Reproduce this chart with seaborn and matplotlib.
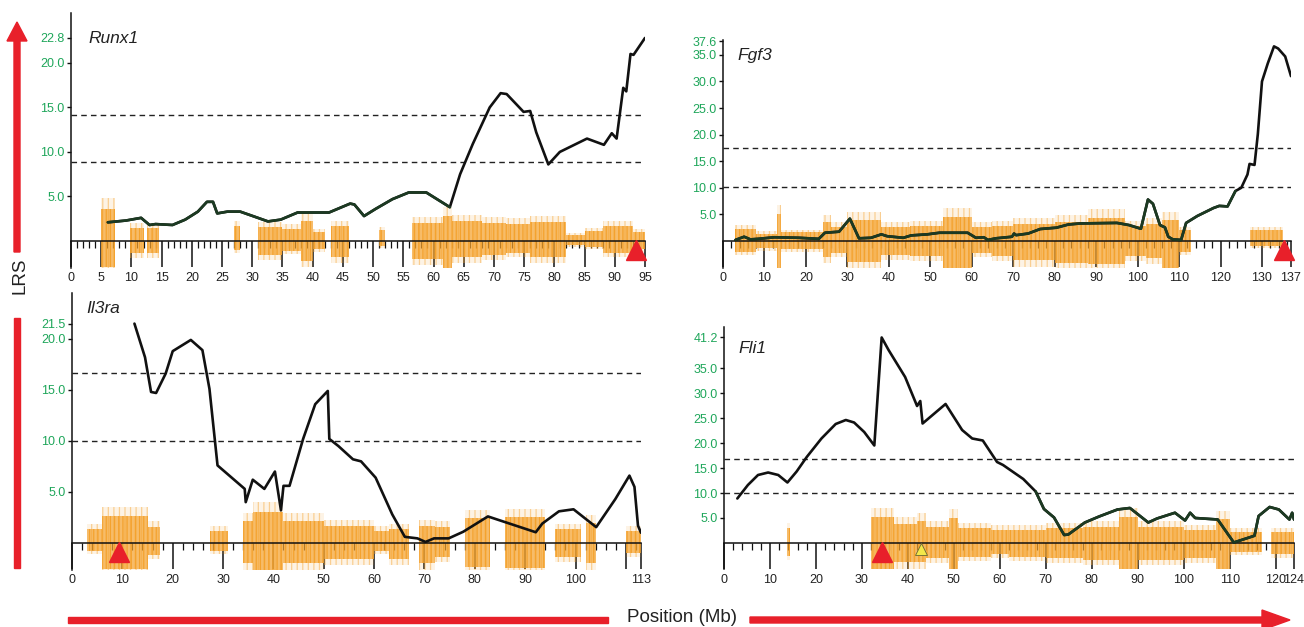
import matplotlib
matplotlib.use("Agg")
import matplotlib.pyplot as plt
import matplotlib.patches as mpatches
from matplotlib.transforms import ScaledTranslation
import numpy as np
import seaborn as sns

sns.set_theme(style="white")
plt.rcParams["font.family"] = ["Liberation Sans", "DejaVu Sans"]
plt.rcParams["hatch.linewidth"] = 0.9

# ---------------- data ----------------
# Runx1
runx1_pos = [6.1, 9.1, 11.6, 13.0, 14.0, 16.8, 18.9, 21.0, 22.5, 23.5, 24.2, 25.9, 28.0, 30.1,
             32.6, 34.7, 37.5, 42.7, 46.2, 46.9, 48.5, 50.4, 53.2, 55.9, 58.8, 62.7, 64.4,
             66.5, 69.3, 71.1, 72.1, 74.9, 76.0, 77.0, 79.0, 80.9, 85.4, 88.2, 89.5, 90.3,
             91.4, 91.9, 92.6, 93.1, 95.0]
runx1_lrs = [2.1, 2.3, 2.6, 1.8, 1.9, 1.8, 2.4, 3.3, 4.4, 4.4, 3.1, 3.3, 3.3, 2.8,
             2.2, 2.4, 3.2, 3.2, 4.2, 4.1, 2.8, 3.6, 4.7, 5.45, 5.45, 3.8, 7.5,
             10.9, 15.0, 16.6, 16.5, 14.5, 14.6, 12.2, 8.6, 10.0, 11.5, 10.8, 12.1, 11.5,
             17.2, 16.8, 21.0, 20.9, 22.8]
runx1_thresh = [14.2, 8.9]
runx1_yticks = [5.0, 10.0, 15.0, 20.0, 22.8]
runx1_o_start = [5.0, 9.8, 12.5, 27.0, 31.0, 35.0, 38.0, 40.0, 43.0, 51.0, 56.5, 61.5, 63.0,
                 68.0, 72.0, 76.0, 82.0, 85.0, 88.0, 93.0]
runx1_o_end = [7.3, 12.0, 14.5, 28.0, 35.0, 38.0, 40.0, 42.0, 46.0, 52.0, 61.5, 63.0, 68.0,
               72.0, 76.0, 82.0, 85.0, 88.0, 93.0, 95.0]
runx1_o_up = [3.6, 1.5, 1.5, 1.7, 1.6, 1.4, 2.3, 1.0, 1.7, 1.2, 2.0, 2.8, 2.2,
              2.0, 1.9, 2.1, 0.7, 1.1, 1.7, 1.0]
runx1_o_down = [2.9, 1.4, 1.4, 1.0, 1.6, 1.1, 2.2, 0.9, 1.8, 0.6, 2.0, 3.0, 1.8,
                1.6, 1.3, 1.8, 0.5, 0.7, 1.3, 0.9]

# Fgf3
fgf3_pos = [3.0, 5.1, 6.6, 8.5, 12.4, 18.3, 23.1, 24.6, 28.0, 30.6, 32.8, 35.7, 38.2, 39.6,
            43.5, 45.4, 49.3, 52.2, 59.0, 61.0, 62.9, 63.9, 65.8, 69.7, 70.2, 70.7, 73.6,
            76.5, 80.4, 83.3, 86.2, 95.0, 97.9, 100.8, 102.5, 103.7, 105.4, 106.6, 107.4,
            108.5, 110.5, 111.7, 114.4, 118.3, 119.7, 121.7, 123.6, 125.0, 126.5, 127.0,
            128.2, 129.0, 130.0, 131.4, 132.9, 133.9, 135.6, 137.0]
fgf3_lrs = [0.2, 0.8, 0.3, 0.4, 0.7, 0.6, 0.4, 1.55, 1.75, 4.2, 0.5, 0.6, 1.25, 0.9,
            0.6, 1.05, 1.25, 1.55, 1.55, 0.6, 0.7, 0.2, 0.5, 0.8, 1.4, 1.1, 1.4,
            2.25, 2.5, 3.1, 3.3, 3.4, 3.0, 2.3, 7.8, 7.0, 3.0, 2.55, 0.8,
            0.3, 0.2, 3.4, 4.7, 6.2, 6.6, 6.5, 9.4, 10.0, 12.5, 14.5,
            14.3, 20.1, 30.0, 33.4, 36.6, 36.2, 34.7, 31.0]
fgf3_thresh = [17.5, 10.2]
fgf3_yticks = [5.0, 10.0, 15.0, 20.0, 25.0, 30.0, 35.0, 37.6]
fgf3_o_start = [3, 8, 13, 14, 24, 26, 30, 38, 45, 53, 60, 65, 70, 80, 88, 97, 102, 106, 110, 127]
fgf3_o_end = [8, 13, 14, 24, 26, 30, 38, 45, 53, 60, 65, 70, 80, 88, 97, 102, 106, 110, 113, 135]
fgf3_o_up = [2.2, 1.4, 5.0, 1.6, 3.6, 2.6, 4.0, 2.6, 2.8, 4.6, 2.6, 2.8, 3.2, 3.6, 4.4, 2.8,
             3.2, 4.0, 2.0, 2.0]
fgf3_o_down = [2.0, 1.4, 5.0, 1.6, 3.0, 2.2, 4.0, 2.6, 2.8, 5.0, 2.2, 2.8, 3.6, 4.2, 4.4, 2.8,
               3.2, 5.0, 2.0, 1.0]

# Il3ra
il3ra_pos = [12.4, 14.5, 15.7, 16.7, 18.6, 20.0, 23.6, 25.9, 27.3, 28.9, 34.3, 34.5, 35.9,
             38.2, 40.3, 41.5, 42.0, 43.2, 45.9, 48.3, 50.8, 51.1, 52.9, 55.8, 57.4, 60.3,
             63.6, 66.1, 68.6, 70.2, 71.9, 74.8, 77.7, 82.6, 92.1, 93.4, 96.7, 99.6, 104.1,
             107.9, 110.7, 111.7, 112.4, 113.0]
il3ra_lrs = [21.5, 18.2, 14.8, 14.7, 16.6, 18.8, 19.9, 18.9, 15.1, 7.6, 5.3, 4.0, 6.2,
             5.3, 7.0, 3.2, 5.6, 5.6, 10.2, 13.6, 14.9, 10.2, 9.5, 8.2, 8.0, 6.4,
             2.8, 0.6, 0.45, 0.1, 0.45, 0.45, 1.1, 2.6, 1.05, 1.9, 3.1, 3.3, 1.55,
             4.3, 6.6, 5.5, 1.7, 1.0]
il3ra_thresh = [16.7, 10.0]
il3ra_yticks = [5.0, 10.0, 15.0, 20.0, 21.5]
il3ra_o_start = [3, 6, 15, 27.5, 34, 36, 42, 50, 60, 63, 69, 72, 78, 86, 96, 102, 110]
il3ra_o_end = [6, 15, 17.5, 31, 36, 42, 50, 60, 63, 67, 72, 75, 83, 94, 101, 104, 113]
il3ra_o_up = [1.4, 2.6, 1.6, 1.2, 2.2, 3.0, 2.2, 1.7, 1.2, 1.4, 1.7, 1.6, 2.4, 2.5, 1.4, 2.0, 1.2]
il3ra_o_down = [0.8, 2.6, 1.2, 0.8, 2.0, 3.2, 2.0, 1.6, 0.8, 1.6, 2.0, 1.4, 2.4, 2.5, 1.4, 2.0, 1.0]

# Fli1
fli1_pos = [2.9, 5.2, 7.4, 9.6, 11.8, 13.8, 15.8, 18.0, 21.2, 24.3, 26.5, 28.3, 30.5, 32.7,
            34.3, 35.8, 39.4, 42.0, 42.7, 43.2, 48.2, 51.8, 54.0, 56.3, 59.4, 60.7, 65.1,
            67.8, 69.6, 71.8, 74.0, 74.9, 78.5, 81.6, 85.6, 88.3, 92.3, 94.2, 98.1, 100.3,
            101.4, 102.5, 107.4, 110.9, 115.4, 116.3, 118.7, 120.7, 123.0, 123.6, 124.0]
fli1_lrs = [8.9, 11.6, 13.6, 14.1, 13.6, 12.1, 14.3, 17.2, 20.9, 23.8, 24.6, 24.1, 22.2, 19.5,
            41.1, 38.6, 33.2, 27.4, 28.4, 23.9, 27.8, 22.6, 20.9, 20.5, 16.2, 15.6, 12.8,
            10.3, 6.8, 5.1, 1.6, 1.7, 4.1, 5.3, 6.7, 7.0, 4.1, 4.9, 6.05, 4.5,
            6.05, 5.0, 4.7, 0.1, 1.45, 5.4, 7.2, 6.7, 4.7, 6.05, 4.7]
fli1_thresh = [16.8, 10.0]
fli1_yticks = [5.0, 10.0, 15.0, 20.0, 25.0, 30.0, 35.0, 41.2]
fli1_o_start = [13.8, 32, 37, 42, 44, 49, 51, 58, 62, 70, 78, 86, 90, 100, 107, 110, 119]
fli1_o_end = [14.3, 37, 42, 44, 49, 51, 58, 62, 70, 78, 86, 90, 100, 107, 110, 117, 124]
fli1_o_up = [3.0, 5.2, 3.8, 4.5, 3.3, 5.0, 3.0, 2.7, 2.7, 3.0, 3.3, 5.2, 3.3, 2.7, 4.8, 2.2, 2.2]
fli1_o_down = [2.5, 5.2, 3.8, 3.8, 3.0, 5.2, 2.7, 2.2, 2.7, 3.0, 3.3, 6.0, 3.3, 3.0, 5.7, 1.8, 2.2]

# gene positions (red triangles) and the yellow one in Fli1
gene_pos = {"Runx1": 93.5, "Fgf3": 135.3, "Il3ra": 9.3, "Fli1": 34.4}
fli1_yellow = 42.8

# ---------------- layout / styling ----------------
RED = "#e8202a"
GREEN_TXT = "#1ea65a"
ORANGE = "#f4a22e"
CURVE = "#111111"
CURVE_G = "#1c3a22"

panels = [
    dict(name="Runx1", pos=runx1_pos, lrs=runx1_lrs, thresh=runx1_thresh, yticks=runx1_yticks,
         o=(runx1_o_start, runx1_o_end, runx1_o_up, runx1_o_down),
         xmax=95, major=list(range(0, 96, 5)), labels=list(range(0, 96, 5)), minor=1,
         green=(0, 62.7), box=(71, 13, 645, 268), ylim=(-3.03, 25.6), lab=(0.03, 0.90)),
    dict(name="Fgf3", pos=fgf3_pos, lrs=fgf3_lrs, thresh=fgf3_thresh, yticks=fgf3_yticks,
         o=(fgf3_o_start, fgf3_o_end, fgf3_o_up, fgf3_o_down),
         xmax=137, major=list(range(0, 131, 10)) + [137], labels=list(range(0, 131, 10)) + [137],
         minor=2, green=(0, 123.6), box=(723, 40, 1291, 268), ylim=(-5.08, 37.8),
         lab=(0.026, 0.93)),
    dict(name="Il3ra", pos=il3ra_pos, lrs=il3ra_lrs, thresh=il3ra_thresh, yticks=il3ra_yticks,
         o=(il3ra_o_start, il3ra_o_end, il3ra_o_up, il3ra_o_down),
         xmax=113, major=list(range(0, 111, 10)) + [113], labels=list(range(0, 101, 10)) + [113],
         minor=2, green=None, box=(72, 293, 641, 570), ylim=(-2.65, 24.5), lab=(0.026, 0.945)),
    dict(name="Fli1", pos=fli1_pos, lrs=fli1_lrs, thresh=fli1_thresh, yticks=fli1_yticks,
         o=(fli1_o_start, fli1_o_end, fli1_o_up, fli1_o_down),
         xmax=124, major=list(range(0, 121, 10)) + [124], labels=list(range(0, 121, 10)) + [124],
         minor=2, green=(67.8, 124), box=(724, 327, 1294, 569), ylim=(-5.2, 43.2),
         lab=(0.025, 0.91)),
]

W, H = 1304, 627
fig = plt.figure(figsize=(W / 100, H / 100), dpi=100)
fig.patch.set_facecolor("white")

for p in panels:
    l, t, r, b = p["box"]
    ax = fig.add_axes([l / W, 1 - b / H, (r - l) / W, (b - t) / H])
    ax.set_facecolor("white")
    ax.set_xlim(0, p["xmax"])
    ax.set_ylim(*p["ylim"])

    # orange marker-wise bars: faint outer halo + hatched core for a hairy look
    st, en, up, dn = [np.array(v, dtype=float) for v in p["o"]]
    ax.bar(st, (up + dn) * 1.35, bottom=-dn * 1.35, width=en - st, align="edge",
           facecolor=(0.96, 0.64, 0.18, 0.12), edgecolor=(0.96, 0.64, 0.18, 0.45),
           hatch="|||", linewidth=0, zorder=1)
    ax.bar(st, up + dn, bottom=-dn, width=en - st, align="edge",
           facecolor=(0.96, 0.64, 0.18, 0.68), edgecolor=ORANGE,
           hatch="||||", linewidth=0, zorder=1.1)

    # thresholds
    for th in p["thresh"]:
        ax.axhline(th, color="#222222", lw=1.0, ls=(0, (4, 3)), zorder=2)

    # LRS curve
    sns.lineplot(x=p["pos"], y=p["lrs"], ax=ax, color=CURVE, linewidth=1.9,
                 estimator=None, sort=False, legend=False, zorder=4)
    if p["green"] is not None:
        g0, g1 = p["green"]
        xs = np.array(p["pos"])
        ys = np.array(p["lrs"])
        m = (xs >= g0) & (xs <= g1)
        sns.lineplot(x=xs[m], y=ys[m], ax=ax, color=CURVE_G, linewidth=1.9,
                     estimator=None, sort=False, legend=False, zorder=4.1)

    # axes styling
    for s in ["top", "right"]:
        ax.spines[s].set_visible(False)
    ax.spines["bottom"].set_position(("data", 0))
    for s in ["bottom", "left"]:
        ax.spines[s].set_color("#111111")
        ax.spines[s].set_linewidth(1.1)
    ax.spines["bottom"].set_zorder(3)

    ax.set_xticks(p["major"])
    ax.set_xticklabels([str(v) if v in p["labels"] else "" for v in p["major"]])
    ax.set_xticks(np.arange(0, p["xmax"] + 0.01, p["minor"]), minor=True)
    ax.tick_params(axis="x", which="both", bottom=True, top=False)
    ax.tick_params(axis="x", which="major", direction="out", length=19, width=1.1,
                   color="#111111", labelsize=9, pad=3, labelcolor="#222222")
    ax.tick_params(axis="x", which="minor", direction="out", length=5, width=0.9,
                   color="#111111")
    ax.set_yticks(p["yticks"])
    ax.set_yticklabels([f"{v:.1f}" for v in p["yticks"]])
    ax.tick_params(axis="y", which="major", left=True, right=False, direction="out",
                   length=3, width=1.0, color="#111111", labelsize=9, pad=1.5,
                   labelcolor=GREEN_TXT)
    ax.grid(False)
    ax.set_xlabel("")
    ax.set_ylabel("")

    ax.text(p["lab"][0], p["lab"][1], p["name"], transform=ax.transAxes, style="italic",
            fontsize=12.5, ha="left", va="center", color="#222222")

    # gene location triangle just under the axis line
    shift = ax.transData + ScaledTranslation(0, -0.09, fig.dpi_scale_trans)
    ax.plot([gene_pos[p["name"]]], [0], marker="^", ms=15, color=RED, mec=RED,
            transform=shift, clip_on=False, zorder=6, ls="none")
    if p["name"] == "Fli1":
        shift_y = ax.transData + ScaledTranslation(0, -0.06, fig.dpi_scale_trans)
        ax.plot([fli1_yellow], [0], marker="^", ms=8, color="#f3e84a", mec="#666633",
                mew=0.6, transform=shift_y, clip_on=False, zorder=6, ls="none")

# ---------------- figure decorations ----------------
inch = fig.dpi_scale_trans
fig.add_artist(mpatches.FancyArrow(0.17, 3.75, 0, 2.30, width=0.06, head_width=0.20,
                                   head_length=0.19, length_includes_head=True,
                                   color=RED, transform=inch))
fig.add_artist(mpatches.Rectangle((0.14, 0.59), 0.06, 2.50, color=RED, transform=inch))
fig.add_artist(mpatches.Rectangle((0.68, 0.04), 5.40, 0.06, color=RED, transform=inch))
fig.add_artist(mpatches.FancyArrow(7.50, 0.07, 5.40, 0, width=0.06, head_width=0.20,
                                   head_length=0.28, length_includes_head=True,
                                   color=RED, transform=inch))
fig.text(6.82 / 13.04, 0.09 / 6.27, "Position (Mb)", ha="center", va="center",
         fontsize=13.5, color="#222222")
fig.text(0.20 / 13.04, 3.51 / 6.27, "LRS", ha="center", va="center", rotation=90,
         fontsize=13.5, color="#222222")

fig.savefig("out.png", dpi=100, facecolor="white")
